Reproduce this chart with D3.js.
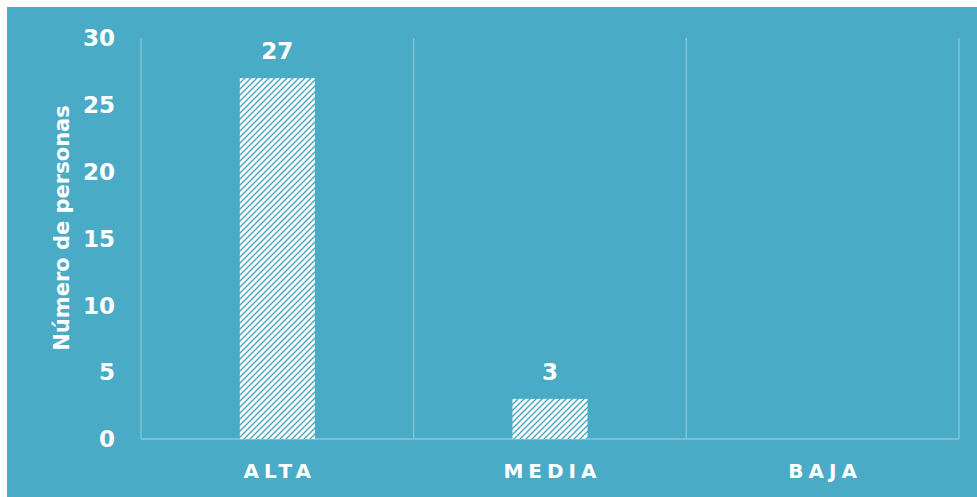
<!DOCTYPE html>
<html>
<head>
<meta charset="utf-8">
<script src="https://cdn.jsdelivr.net/npm/d3@7"></script>
<style>
  body { margin: 0; background: #fff; }
  text { font-family: "DejaVu Sans", "Liberation Sans", Arial, sans-serif; font-weight: bold; fill: #fff; }
</style>
</head>
<body>
<div id="chart"></div>
<script>
// data
const categories = ["ALTA", "MEDIA", "BAJA"];
const values = [27, 3, null];
const yTicks = [0, 5, 10, 15, 20, 25, 30];
const yTitle = "Número de personas";

const W = 977, H = 497;
const bg = "#4aabc6";
const grid = "#86c6d9";

const margin = { top: 38, right: 18, bottom: 58, left: 141 };
const width = W - margin.left - margin.right;
const height = H - margin.top - margin.bottom;

const svg = d3.select("#chart").append("svg")
    .attr("width", W)
    .attr("height", H);

// hatch pattern for bars ("/" lines)
const pat = svg.append("defs").append("pattern")
    .attr("id", "hatch")
    .attr("patternUnits", "userSpaceOnUse")
    .attr("width", 6)
    .attr("height", 6);
pat.append("rect").attr("width", 6).attr("height", 6).attr("fill", "#fff");
pat.append("path")
    .attr("d", "M-1,7 L7,-1 M-4,4 L4,-4 M2,10 L10,2")
    .attr("stroke", "#4aabc6").attr("stroke-width", 1.5);

// panel background
svg.append("rect")
    .attr("x", 7).attr("y", 7)
    .attr("width", W - 7).attr("height", H - 7)
    .attr("fill", bg);

const g = svg.append("g")
    .attr("transform", `translate(${margin.left}, ${margin.top})`);

const x = d3.scaleBand().domain(categories).range([0, width]).paddingInner(0).paddingOuter(0);
const y = d3.scaleLinear().domain([0, 30]).range([height, 0]);

// vertical grid lines at category boundaries
const bounds = categories.map(c => x(c)).concat([width]);
g.selectAll(".vgrid").data(bounds).enter().append("line")
    .attr("x1", d => d).attr("x2", d => d)
    .attr("y1", 0).attr("y2", height)
    .attr("stroke", grid).attr("stroke-width", 1.3);

// baseline
g.append("line")
    .attr("x1", 0).attr("x2", width)
    .attr("y1", height).attr("y2", height)
    .attr("stroke", grid).attr("stroke-width", 1.3);

// y axis labels
g.selectAll(".ytick").data(yTicks).enter().append("text")
    .attr("x", -26)
    .attr("y", d => y(d))
    .attr("dy", "0.36em")
    .attr("text-anchor", "end")
    .style("font-size", "23px")
    .text(d => d);

// y title
g.append("text")
    .attr("transform", `translate(${69 - margin.left}, ${228 - margin.top}) rotate(-90)`)
    .attr("text-anchor", "middle")
    .style("font-size", "21px")
    .text(yTitle);

// bars
const barW = x.bandwidth() * 0.275;
const data = categories.map((c, i) => ({ c, v: values[i] })).filter(d => d.v != null);

g.selectAll(".bar").data(data).enter().append("rect")
    .attr("x", d => x(d.c) + (x.bandwidth() - barW) / 2)
    .attr("y", d => y(d.v))
    .attr("width", barW)
    .attr("height", d => height - y(d.v))
    .attr("fill", "url(#hatch)");

// value labels
g.selectAll(".lbl").data(data).enter().append("text")
    .attr("x", d => x(d.c) + x.bandwidth() / 2)
    .attr("y", d => y(d.v) - 19)
    .attr("text-anchor", "middle")
    .style("font-size", "23px")
    .text(d => d.v);

// category labels
g.selectAll(".cat").data(categories).enter().append("text")
    .attr("x", d => x(d) + x.bandwidth() / 2 + 2.5)
    .attr("y", height + 39)
    .attr("text-anchor", "middle")
    .style("font-size", "20px")
    .style("letter-spacing", "5px")
    .text(d => d);
</script>
</body>
</html>
